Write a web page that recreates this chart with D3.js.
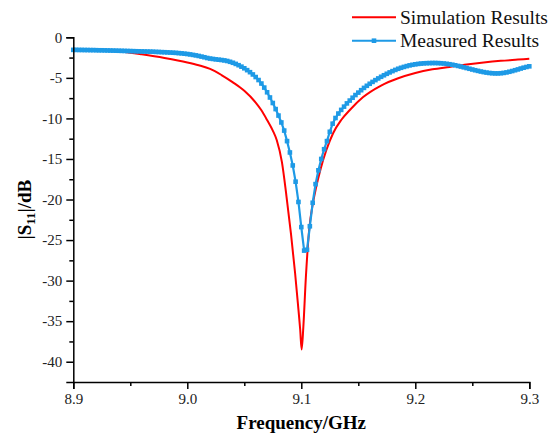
<!DOCTYPE html>
<html>
<head>
<meta charset="utf-8">
<script src="https://cdn.jsdelivr.net/npm/d3@7"></script>
<style>
  html, body { margin: 0; padding: 0; background: #fff; }
  svg { display: block; }
  text { font-family: "Liberation Serif", "Times New Roman", serif; }
</style>
</head>
<body>
<svg id="chart" width="554" height="434"></svg>
<script>
// Simulated |S11| (dB) against frequency (GHz)
const simFreq = [8.90, 8.92, 8.94, 8.95, 8.96, 8.98, 9.00, 9.01, 9.02, 9.03, 9.04, 9.05, 9.06, 9.065, 9.07, 9.075,
  9.0785, 9.083, 9.087, 9.091, 9.0945, 9.097, 9.099, 9.1003, 9.1018, 9.104, 9.107, 9.110, 9.113, 9.117,
  9.122, 9.128, 9.135, 9.143, 9.154, 9.17, 9.185, 9.20, 9.215, 9.23, 9.245, 9.26, 9.275, 9.29, 9.30];
const simDb = [-1.50, -1.58, -1.75, -1.90, -2.10, -2.55, -3.10, -3.45, -3.90, -4.65, -5.55, -6.60, -8.05, -9.00, -10.20, -11.50,
  -12.70, -15.40, -19.60, -24.30, -29.00, -32.80, -36.00, -38.50, -35.70, -29.60, -23.60, -20.60, -18.50, -16.20,
  -13.90, -11.80, -10.20, -8.90, -7.40, -5.95, -5.05, -4.40, -3.95, -3.65, -3.35, -3.10, -2.90, -2.75, -2.65];

// Measured |S11| (dB), VNA sweep from 8.9 GHz in 2.5 MHz steps
const measStart = 8.9;
const measStep = 0.0025;
const measDb = [
  -1.55, -1.55, -1.56, -1.56, -1.57, -1.57, -1.58, -1.58, -1.59, -1.60,
  -1.60, -1.61, -1.62, -1.63, -1.64, -1.65, -1.66, -1.67, -1.68, -1.69,
  -1.70, -1.71, -1.72, -1.73, -1.74, -1.75, -1.76, -1.77, -1.78, -1.80,
  -1.81, -1.83, -1.84, -1.86, -1.88, -1.90, -1.92, -1.95, -1.98, -2.02,
  -2.06, -2.11, -2.17, -2.23, -2.30, -2.38, -2.46, -2.55, -2.62, -2.67,
  -2.72, -2.76, -2.80, -2.85, -2.92, -3.02, -3.14, -3.28, -3.44, -3.62,
  -3.82, -4.05, -4.30, -4.58, -4.90, -5.27, -5.70, -6.20, -6.78, -7.42,
  -8.10, -8.85, -9.65, -10.50, -11.50, -12.80, -14.20, -15.80, -17.80, -20.30,
  -23.40, -26.30, -26.20, -23.30, -20.40, -18.10, -16.40, -15.00, -13.80, -12.80,
  -11.65, -10.65, -9.95, -9.40, -8.95, -8.55, -8.15, -7.80, -7.45, -7.12,
  -6.82, -6.52, -6.24, -5.98, -5.73, -5.50, -5.28, -5.07, -4.87, -4.68,
  -4.50, -4.33, -4.17, -4.02, -3.88, -3.76, -3.65, -3.55, -3.46, -3.39,
  -3.33, -3.28, -3.24, -3.21, -3.19, -3.18, -3.17, -3.17, -3.18, -3.20,
  -3.23, -3.27, -3.32, -3.38, -3.45, -3.53, -3.61, -3.70, -3.79, -3.88,
  -3.97, -4.06, -4.14, -4.22, -4.29, -4.35, -4.40, -4.43, -4.45, -4.45,
  -4.43, -4.39, -4.33, -4.25, -4.16, -4.06, -3.96, -3.85, -3.75, -3.66,
  -3.58
];

const xTicks = [8.9, 9.0, 9.1, 9.2, 9.3];
const xMinorTicks = [8.95, 9.05, 9.15, 9.25];
const yTicks = [0, -5, -10, -15, -20, -25, -30, -35, -40];
const yMinorTicks = [-2.5, -7.5, -12.5, -17.5, -22.5, -27.5, -32.5, -37.5];
const seriesNames = ["Simulation Results", "Measured Results"];
const seriesColors = ["#ff0000", "#1e9ae6"];

const serif = "'Liberation Serif', 'Times New Roman', serif";
const svg = d3.select("#chart");
const margin = { left: 73.3, right: 24.7, top: 37.3, bottom: 52 };
const W = 554, H = 434;

const x = d3.scaleLinear().domain([8.9, 9.3]).range([margin.left, W - margin.right]);
const y = d3.scaleLinear().domain([-42.5, 0]).range([H - margin.bottom, margin.top]);

const simData = simFreq.map((f, i) => ({ f, v: simDb[i] }));
const measData = measDb.map((v, i) => ({ f: measStart + i * measStep, v }));

// simulation curve (drawn underneath the measured one)
svg.append("path")
  .datum(simData)
  .attr("fill", "none")
  .attr("stroke", seriesColors[0])
  .attr("stroke-width", 2)
  .attr("d", d3.line().x(d => x(d.f)).y(d => y(d.v)).curve(d3.curveMonotoneX));

// measured curve with square markers
svg.append("path")
  .datum(measData)
  .attr("fill", "none")
  .attr("stroke", seriesColors[1])
  .attr("stroke-width", 2.2)
  .attr("d", d3.line().x(d => x(d.f)).y(d => y(d.v)));

const ms = 4.6;
svg.append("g").selectAll("rect")
  .data(measData)
  .join("rect")
  .attr("x", d => x(d.f) - ms / 2)
  .attr("y", d => y(d.v) - ms / 2)
  .attr("width", ms)
  .attr("height", ms)
  .attr("fill", seriesColors[1]);

// axes
svg.append("g")
  .attr("transform", `translate(0,${y(-42.5)})`)
  .call(d3.axisBottom(x).tickValues(xTicks).tickFormat(d3.format(".1f")).tickSizeOuter(0).tickSize(7).tickPadding(4));
svg.append("g")
  .attr("transform", `translate(0,${y(-42.5)})`)
  .call(d3.axisBottom(x).tickValues(xMinorTicks).tickFormat("").tickSizeOuter(0).tickSize(4))
  .select(".domain").remove();

svg.append("g")
  .attr("transform", `translate(${x(8.9)},0)`)
  .call(d3.axisLeft(y).tickValues(yTicks).tickFormat(d => d === 0 ? "0" : "-" + Math.abs(d)).tickSizeOuter(0).tickSize(7).tickPadding(4));
svg.append("g")
  .attr("transform", `translate(${x(8.9)},0)`)
  .call(d3.axisLeft(y).tickValues(yMinorTicks).tickFormat("").tickSizeOuter(0).tickSize(4))
  .select(".domain").remove();

svg.selectAll("g[font-family]").attr("font-family", serif).attr("font-size", 15);
svg.selectAll(".domain, .tick line")
  .attr("stroke", "#000")
  .attr("stroke-width", 1.5);
svg.selectAll(".tick text")
  .attr("fill", "#222")
  .style("font-family", serif)
  .style("font-size", "15px");

// axis titles
svg.append("text")
  .attr("x", (x(8.9) + x(9.3)) / 2)
  .attr("y", 429)
  .attr("text-anchor", "middle")
  .style("font-size", "19px")
  .style("font-weight", "bold")
  .text("Frequency/GHz");

const yt = svg.append("text")
  .attr("transform", `translate(31,${(y(0) + y(-42.5)) / 2}) rotate(-90)`)
  .attr("text-anchor", "middle")
  .style("font-size", "19px")
  .style("font-weight", "bold");
yt.append("tspan").text("|S");
yt.append("tspan").attr("dy", 4).style("font-size", "13px").text("11");
yt.append("tspan").attr("dy", -4).text("|/dB");

// legend
const legend = svg.append("g");
const legendRows = [
  { name: seriesNames[0], color: seriesColors[0], y: 17.3, marker: false },
  { name: seriesNames[1], color: seriesColors[1], y: 40.7, marker: true }
];
legendRows.forEach(r => {
  legend.append("line")
    .attr("x1", 352).attr("x2", 396)
    .attr("y1", r.y).attr("y2", r.y)
    .attr("stroke", r.color).attr("stroke-width", 2);
  if (r.marker) {
    legend.append("rect")
      .attr("x", 374 - ms / 2).attr("y", r.y - ms / 2)
      .attr("width", ms).attr("height", ms)
      .attr("fill", r.color);
  }
  legend.append("text")
    .attr("x", 400).attr("y", r.y + 6.5)
    .style("font-size", "19.5px")
    .attr("fill", "#111")
    .text(r.name);
});
</script>
</body>
</html>
